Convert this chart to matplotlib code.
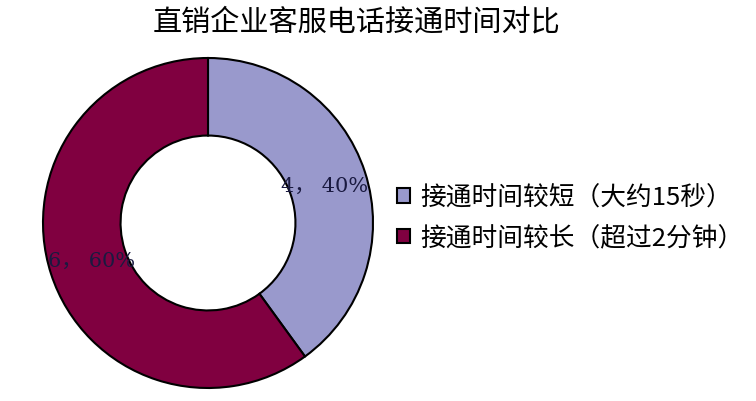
import matplotlib.pyplot as plt
import numpy as np

plt.rcParams['font.family'] = ['Noto Sans CJK SC', 'DejaVu Sans']

# 数据
categories = ['接通时间较短（大约15秒）', '接通时间较长（超过2分钟）']
values = [4, 6]
colors = ['#9999CC', '#800040']

fig = plt.figure(figsize=(7.56, 4.02), dpi=100)
ax = fig.add_axes([43 / 756, 13 / 402, 330 / 756, 330 / 402])

wedges, _ = ax.pie(values, colors=colors, startangle=90, counterclock=False,
                   radius=1, wedgeprops=dict(width=0.47, edgecolor='black', linewidth=1.5))

# 数据标签
total = sum(values)
ang = 90
for v, w in zip(values, wedges):
    span = v / total * 360
    mid = np.deg2rad(ang - span / 2)
    ang -= span
    ax.text(0.74 * np.cos(mid), 0.74 * np.sin(mid), f'{v}， {v / total:.0%}',
            ha='center', va='center', fontsize=15, color='#1a1a40',
            family=['DejaVu Serif', 'Noto Sans CJK SC'])

ax.set_xlim(-1, 1)
ax.set_ylim(-1, 1)
ax.set_aspect('equal')

fig.text(357 / 756, 1 - 22 / 402, '直销企业客服电话接通时间对比', ha='center', va='center', fontsize=21)

leg = fig.legend(wedges, categories, loc='center left', bbox_to_anchor=(397 / 756, 1 - 219 / 402),
                 frameon=False, fontsize=18.5, handlelength=0.5, handleheight=0.5,
                 handletextpad=0.4, labelspacing=0.55, borderpad=0, borderaxespad=0)

plt.savefig('out.png', dpi=100)
